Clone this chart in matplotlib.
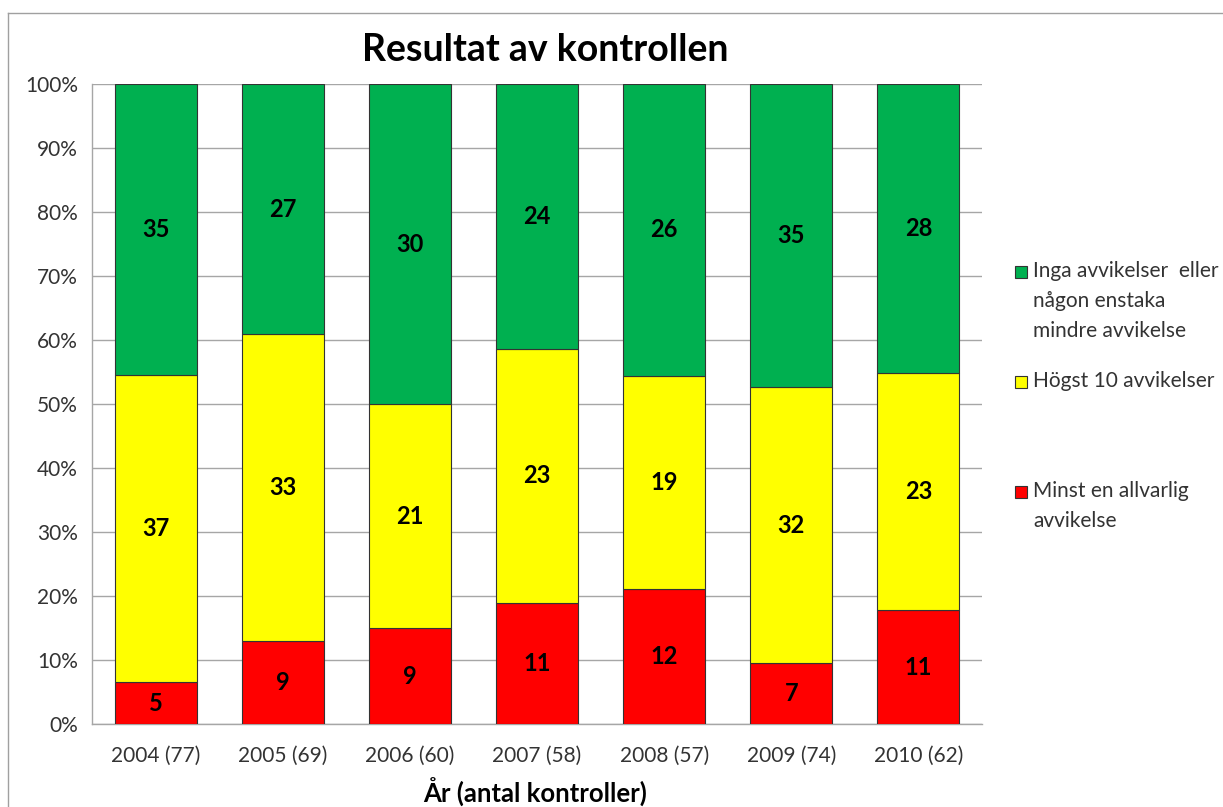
import matplotlib
matplotlib.use("Agg")
import matplotlib.pyplot as plt
import numpy as np
from matplotlib.patches import Rectangle
from matplotlib.lines import Line2D

plt.rcParams['font.family'] = ['Lato', 'DejaVu Sans']

years = ["2004", "2005", "2006", "2007", "2008", "2009", "2010"]
red = [5, 9, 9, 11, 12, 7, 11]
yellow = [37, 33, 21, 23, 19, 32, 23]
green = [35, 27, 30, 24, 26, 35, 28]
labels_legend = ["Inga avvikelser  eller\nnågon enstaka\nmindre avvikelse",
                 "Högst 10 avvikelser",
                 "Minst en allvarlig\navvikelse"]
colors = ["#00B050", "#FFFF00", "#FF0000"]

r = np.array(red, float); yv = np.array(yellow, float); g = np.array(green, float)
tot = r + yv + g
cats = [f"{y} ({int(t)})" for y, t in zip(years, tot)]
rp, yp, gp = r / tot * 100, yv / tot * 100, g / tot * 100

W, H = 1223, 807
fig = plt.figure(figsize=(W / 100, H / 100), dpi=100)
ax = fig.add_axes([92 / W, 1 - 724 / H, (982 - 92) / W, (724 - 84) / H])

x = np.arange(len(cats))
bw = 0.645
ec = "#333333"
ax.bar(x, rp, bw, color=colors[2], edgecolor=ec, linewidth=0.8, zorder=3)
ax.bar(x, yp, bw, bottom=rp, color=colors[1], edgecolor=ec, linewidth=0.8, zorder=3)
ax.bar(x, gp, bw, bottom=rp + yp, color=colors[0], edgecolor=ec, linewidth=0.8, zorder=3)

for i in range(len(x)):
    for val, bot, h in [(red[i], 0, rp[i]), (yellow[i], rp[i], yp[i]), (green[i], rp[i] + yp[i], gp[i])]:
        ax.text(x[i], bot + h / 2, str(val), ha="center", va="center",
                fontsize=17, fontweight="bold", color="black", zorder=4)

ax.set_xlim(-0.5, len(cats) - 0.5)
ax.set_ylim(0, 100)
ax.set_yticks(np.arange(0, 101, 10))
ax.set_yticklabels([f"{v}%" for v in range(0, 101, 10)])
ax.set_xticks(x)
ax.set_xticklabels(cats)
ax.tick_params(axis="both", length=0, labelsize=15, colors="#333333")
ax.tick_params(axis="x", pad=16)
ax.tick_params(axis="y", pad=10)
ax.yaxis.grid(True, color="#A6A6A6", linewidth=1, zorder=0)
for s in ["top", "right"]:
    ax.spines[s].set_visible(False)
for s in ["left", "bottom"]:
    ax.spines[s].set_color("#A6A6A6")
    ax.spines[s].set_linewidth(1)

fig.text(545 / W, 1 - 50 / H, "Resultat av kontrollen", ha="center", va="center",
         fontsize=27, fontweight="bold", color="black")
fig.text(535 / W, 1 - 792 / H, "År (antal kontroller)", ha="center", va="center",
         fontsize=18.5, fontweight="bold", color="black")

# legend
leg_y = [272, 382, 492]
leg_cols = [colors[0], colors[1], colors[2]]
for yy, c, lab in zip(leg_y, leg_cols, labels_legend):
    fig.patches.append(Rectangle((1015 / W, 1 - (yy + 6) / H), 12 / W, 12 / H,
                                 transform=fig.transFigure, facecolor=c,
                                 edgecolor="#333333", linewidth=0.8))
    fig.text(1033 / W, 1 - (yy - 11) / H, lab, ha="left", va="top",
             fontsize=15, color="#333333", linespacing=1.62)

# outer border
fig.add_artist(Line2D([8 / W, 8 / W], [0, 1 - 13 / H], transform=fig.transFigure,
                      color="#A0A0A0", linewidth=1))
fig.add_artist(Line2D([8 / W, 1], [1 - 13 / H, 1 - 13 / H], transform=fig.transFigure,
                      color="#A0A0A0", linewidth=1))

fig.savefig("out.png", dpi=100)
